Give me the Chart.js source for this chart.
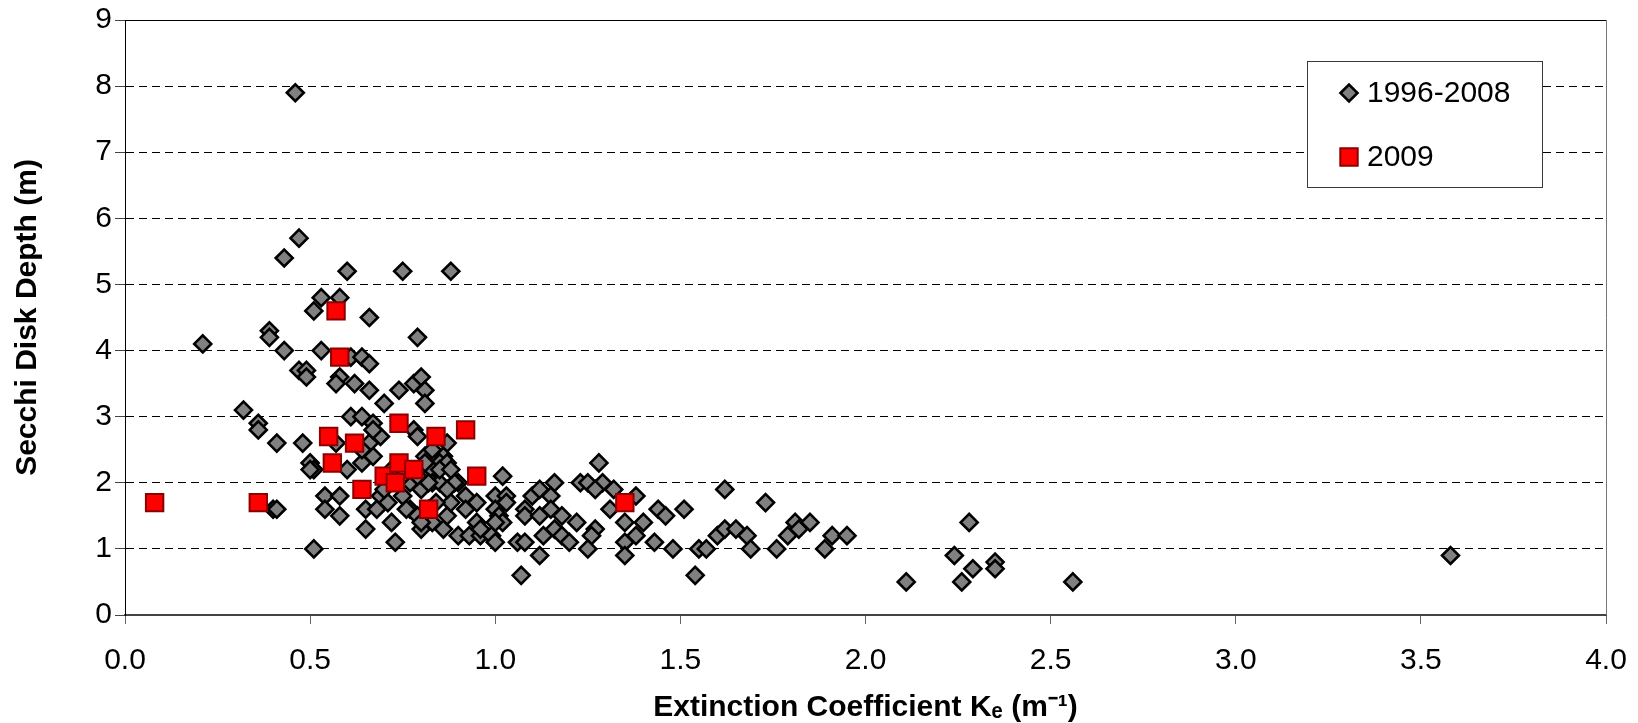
<!DOCTYPE html>
<html>
<head>
<meta charset="utf-8">
<script src="https://cdn.jsdelivr.net/npm/chart.js@4/dist/chart.umd.min.js"></script>
<style>
html,body{margin:0;padding:0;background:#ffffff;}
#wrap{width:1638px;height:723px;}
</style>
</head>
<body>
<div id="wrap"><canvas id="c" width="1638" height="723"></canvas></div>
<script>
// ---- data ----
const seriesLabels = ['1996-2008', '2009'];

const grayKe = [
  0.46,0.47,0.43,0.60,0.75,0.88,0.53,0.58,0.51,0.66,
  0.39,0.39,0.21,0.79,0.43,0.53,0.61,0.64,0.66,0.47,
  0.49,0.49,0.58,0.57,0.62,0.66,0.70,0.74,0.78,0.80,
  0.81,0.81,0.32,0.36,0.36,0.61,0.64,0.67,0.78,0.41,
  0.48,0.69,0.79,0.87,0.86,0.50,0.51,0.60,0.64,0.67,
  0.81,0.83,0.85,0.87,0.81,0.83,0.90,0.83,0.80,0.85,
  0.89,0.54,0.58,0.54,0.58,0.65,0.69,0.71,0.68,0.77,
  0.65,0.72,0.73,0.80,0.86,0.90,0.93,0.51,0.40,0.41,
  0.79,0.83,0.87,0.95,0.95,0.92,0.88,0.87,0.96,1.00,
  1.00,0.99,1.02,1.03,1.03,1.01,1.02,0.96,1.00,1.06,
  1.08,1.12,1.07,1.08,1.08,1.10,1.12,1.16,1.15,1.12,
  1.15,1.18,1.22,1.16,1.13,1.18,1.20,1.23,1.25,1.28,
  1.29,1.27,1.32,1.38,1.31,1.27,1.26,1.25,1.35,1.40,
  1.35,1.35,1.38,1.44,1.46,1.43,1.48,1.51,1.54,1.55,
  1.57,1.62,1.60,1.62,1.65,1.68,1.69,1.73,1.76,1.79,
  1.81,1.82,1.85,1.89,1.91,1.95,2.11,2.24,2.28,2.26,
  2.29,2.35,2.35,2.56,3.58,0.75,0.82,0.84,0.82,0.80,
  0.76,0.92,1.00,0.85,0.88,0.81,0.66,0.67,0.64,0.50,
  0.57,0.72,0.70,0.77,0.75,0.79
];
const graySecchi = [
  7.9,5.7,5.4,5.2,5.2,5.2,4.8,4.8,4.6,4.5,
  4.3,4.2,4.1,4.2,4.0,4.0,3.9,3.9,3.8,3.7,
  3.7,3.6,3.6,3.5,3.5,3.4,3.2,3.4,3.5,3.6,
  3.4,3.2,3.1,2.9,2.8,3.0,3.0,2.9,2.8,2.6,
  2.6,2.7,2.7,2.6,2.4,2.3,2.2,2.2,2.3,2.4,
  2.4,2.5,2.3,2.3,2.2,2.2,2.0,2.0,1.9,2.0,
  2.0,1.8,1.8,1.6,1.5,1.6,1.8,1.7,1.6,1.6,
  1.3,1.4,1.1,1.3,1.3,1.2,1.2,1.0,1.6,1.6,
  1.5,1.4,1.5,1.4,1.7,1.8,1.7,1.9,1.2,1.8,
  1.6,1.2,2.1,1.8,1.7,1.5,1.4,1.3,1.1,1.1,
  1.1,0.9,0.6,1.6,1.5,1.8,1.9,2.0,1.8,1.5,
  1.6,1.5,1.4,1.3,1.2,1.2,1.1,2.0,2.0,2.3,
  2.0,1.9,1.9,1.8,1.6,1.3,1.2,1.0,1.4,1.4,
  1.1,0.9,1.2,1.6,1.5,1.1,1.0,1.6,0.6,1.0,
  1.0,1.9,1.2,1.3,1.3,1.2,1.0,1.7,1.0,1.2,
  1.4,1.3,1.4,1.0,1.2,1.2,0.5,0.9,1.4,0.5,
  0.7,0.8,0.7,0.5,0.9,1.8,2.0,1.7,1.6,1.4,
  1.6,1.6,1.4,2.2,2.2,2.3,2.6,2.8,2.5,2.2,
  2.6,2.2,1.9,2.0,2.1,2.1
];

const redKe = [0.08,0.36,0.55,0.56,0.57,0.58,0.62,0.64,0.70,0.73,0.74,0.74,0.78,0.82,0.84,0.92,0.95,1.35];
const redSecchi = [1.7,1.7,2.7,2.3,4.6,3.9,2.6,1.9,2.1,2.0,2.9,2.3,2.2,1.6,2.7,2.8,2.1,1.7];

const xTickValues = [0,0.5,1.0,1.5,2.0,2.5,3.0,3.5,4.0];
const yTickValues = [0,1,2,3,4,5,6,7,8,9];

const xTitle = 'Extinction Coefficient K\u2091 (m\u207B\u00B9)';
const yTitle = 'Secchi Disk Depth (m)';

// ---- build ----
const toPts = (xs, ys) => xs.map((x, i) => ({x: x, y: ys[i]}));

Chart.defaults.font.family = '"Liberation Sans", Arial, Helvetica, sans-serif';
Chart.defaults.color = '#000';

const plotFrame = {
  id: 'plotFrame',
  beforeDatasetsDraw(chart) {
    const a = chart.chartArea;
    const ctx = chart.ctx;
    ctx.save();
    ctx.strokeStyle = '#777777';
    ctx.lineWidth = 1;
    ctx.beginPath();
    ctx.moveTo(Math.round(a.right) + 0.5, a.top);
    ctx.lineTo(Math.round(a.right) + 0.5, a.bottom);
    ctx.stroke();
    ctx.restore();
  }
};

const boxLegend = {
  id: 'boxLegend',
  afterDraw(chart) {
    const ctx = chart.ctx;
    const L = 1307, T = 61, R = 1542, B = 187;
    ctx.save();
    ctx.fillStyle = '#ffffff';
    ctx.fillRect(L, T, R - L, B - T);
    ctx.strokeStyle = '#3a3a3a';
    ctx.lineWidth = 1;
    ctx.strokeRect(L + 0.5, T + 0.5, R - L, B - T);
    const rows = [93, 157];
    chart.data.datasets.forEach((ds, i) => {
      const cy = rows[i];
      ctx.fillStyle = ds.backgroundColor;
      ctx.strokeStyle = ds.borderColor;
      ctx.lineWidth = ds.borderWidth;
      Chart.helpers.drawPoint(ctx, {
        pointStyle: ds.pointStyle, radius: ds.pointRadius, rotation: 0, borderWidth: ds.borderWidth
      }, 1349, cy);
      ctx.fillStyle = '#000';
      ctx.font = '30px "Liberation Sans", Arial, sans-serif';
      ctx.textAlign = 'left';
      ctx.textBaseline = 'middle';
      ctx.fillText(ds.label, 1367, cy + 1);
    });
    ctx.restore();
  }
};

new Chart(document.getElementById('c'), {
  type: 'scatter',
  data: {
    datasets: [
      {
        label: seriesLabels[0],
        data: toPts(grayKe, graySecchi),
        pointStyle: 'rectRot',
        pointRadius: 8.5,
        pointHoverRadius: 8.5,
        backgroundColor: '#808080',
        borderColor: '#000000',
        borderWidth: 2.6,
        order: 1
      },
      {
        label: seriesLabels[1],
        data: toPts(redKe, redSecchi),
        pointStyle: 'rect',
        pointRadius: 12.3,
        pointHoverRadius: 12.3,
        backgroundColor: '#ff0000',
        borderColor: '#8b0000',
        borderWidth: 2,
        order: 0
      }
    ]
  },
  options: {
    responsive: false,
    animation: false,
    devicePixelRatio: 1,
    layout: { padding: { left: 0, top: 20, right: 32, bottom: 0 } },
    plugins: { legend: { display: false }, tooltip: { enabled: false } },
    scales: {
      x: {
        type: 'linear',
        min: 0, max: 4,
        afterFit(s) { s.height = 108; s.paddingLeft = 0; s.paddingRight = 0; },
        afterBuildTicks(s) { s.ticks = xTickValues.map(v => ({value: v})); },
        ticks: {
          font: { size: 30 },
          color: '#000',
          padding: 19,
          maxRotation: 0,
          autoSkip: false,
          callback: v => Number(v).toFixed(1)
        },
        grid: {
          drawOnChartArea: false,
          drawTicks: true,
          tickLength: 9,
          color: '#666',
          tickColor: '#666'
        },
        border: { display: true, color: '#444', width: 2 },
        title: {
          display: true,
          text: xTitle,
          font: { size: 30, weight: 'bold' },
          color: '#000',
          padding: { top: 0, bottom: -3 }
        }
      },
      y: {
        type: 'linear',
        min: 0, max: 9,
        afterFit(s) { s.width = 125; s.paddingTop = 0; s.paddingBottom = 0; },
        afterBuildTicks(s) { s.ticks = yTickValues.map(v => ({value: v})); },
        ticks: {
          font: { size: 30 },
          color: '#000',
          padding: 3,
          autoSkip: false,
          callback: v => String(v)
        },
        grid: {
          drawOnChartArea: true,
          drawTicks: true,
          tickLength: 10,
          color: '#000',
          tickColor: '#444',
          lineWidth: 1,
          tickBorderDash: []
        },
        border: {
          display: true,
          color: '#000',
          width: 1,
          dash: (c) => (c.tick && c.tick.value === 9) ? [] : [8, 5]
        },
        title: {
          display: true,
          text: yTitle,
          font: { size: 30, weight: 'bold' },
          color: '#000',
          padding: { top: 10, bottom: 0 }
        }
      }
    }
  },
  plugins: [plotFrame, boxLegend]
});
</script>
</body>
</html>
